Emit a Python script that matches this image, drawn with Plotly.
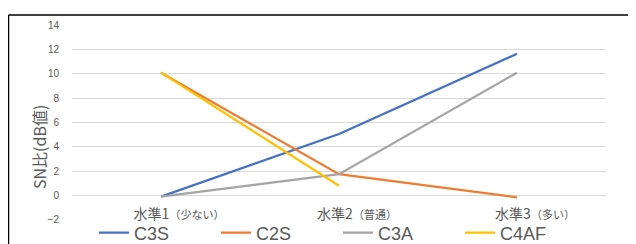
import plotly.graph_objects as go

categories = ["水準1<span style='font-size:11px'>（少ない）</span>",
              "水準2<span style='font-size:11px'>（普通）</span>",
              "水準3<span style='font-size:11px'>（多い）</span>"]
c3s = [-0.1, 5.05, 11.65]
c2s = [10.1, 1.75, -0.15]
c3a = [-0.1, 1.75, 10.1]
c4af = [10.1, 0.8, None]
y_ticks = [-2, 0, 2, 4, 6, 8, 10, 12, 14]

series = [("C3S", c3s, "#4472C4"), ("C2S", c2s, "#ED7D31"),
          ("C3A", c3a, "#A5A5A5"), ("C4AF", c4af, "#FFC000")]

# page body has an 8px margin, so the figure is offset by 8px
OFF = 8
W, H = 636 - OFF, 244 - OFF
L, R, T, B = 64, 30, 17, 24
pw, ph = W - L - R, H - T - B

def px_x(p):  # screenshot pixel -> paper fraction
    return (p - OFF - L) / pw

def px_y(p):
    return (H - B - (p - OFF)) / ph

fig = go.Figure()
for name, vals, col in series:
    fig.add_trace(go.Scatter(x=categories, y=vals, name=name, mode="lines",
                             line=dict(color=col, width=2.25),
                             connectgaps=False))

jp = "Noto Sans CJK JP, Noto Sans, sans-serif"
fig.update_layout(
    width=W, height=H,
    margin=dict(l=L, r=R, t=T, b=B, autoexpand=False),
    paper_bgcolor="white", plot_bgcolor="white",
    font=dict(family=jp, color="#595959"),
    showlegend=True,
    legend=dict(orientation="h", xref="container", x=(100 - OFF - 6) / W, xanchor="left",
                yref="container", y=(H - (233 - OFF)) / H, yanchor="middle",
                font=dict(size=18, family="Liberation Sans, Arial, sans-serif", color="#595959"),
                entrywidth=77, entrywidthmode="pixels",
                bgcolor="rgba(0,0,0,0)", itemwidth=30, tracegroupgap=0),
    xaxis=dict(type="category", range=[-0.5, 2.5], showgrid=False, zeroline=False,
               showline=False, automargin=False,
               ticks="", anchor="free", position=px_y(204),
               ticklabelshift=18,
               tickfont=dict(size=14, family=jp, color="#595959")),
    yaxis=dict(range=[-2.02, 14.02], tickvals=y_ticks, showgrid=True, automargin=False,
               gridcolor="#D9D9D9", gridwidth=1, zeroline=False, showline=False,
               ticks="", ticklabelstandoff=12,
               tickfont=dict(size=10, family="Liberation Sans, Arial, sans-serif", color="#595959")),
    annotations=[dict(text="SN比(dB値)", textangle=-90, x=px_x(39), y=px_y(147),
                      xref="paper", yref="paper", xanchor="center", yanchor="middle",
                      showarrow=False,
                      font=dict(size=16, family=jp, color="#595959"))],
    shapes=[
        dict(type="line", xref="paper", yref="paper", x0=px_x(8.5), x1=px_x(640),
             y0=px_y(15), y1=px_y(15), line=dict(color="black", width=1.5)),
        dict(type="line", xref="paper", yref="paper", x0=px_x(8.5), x1=px_x(8.5),
             y0=px_y(15), y1=px_y(250), line=dict(color="black", width=1.5)),
    ],
)

fig.write_html("out.html")
